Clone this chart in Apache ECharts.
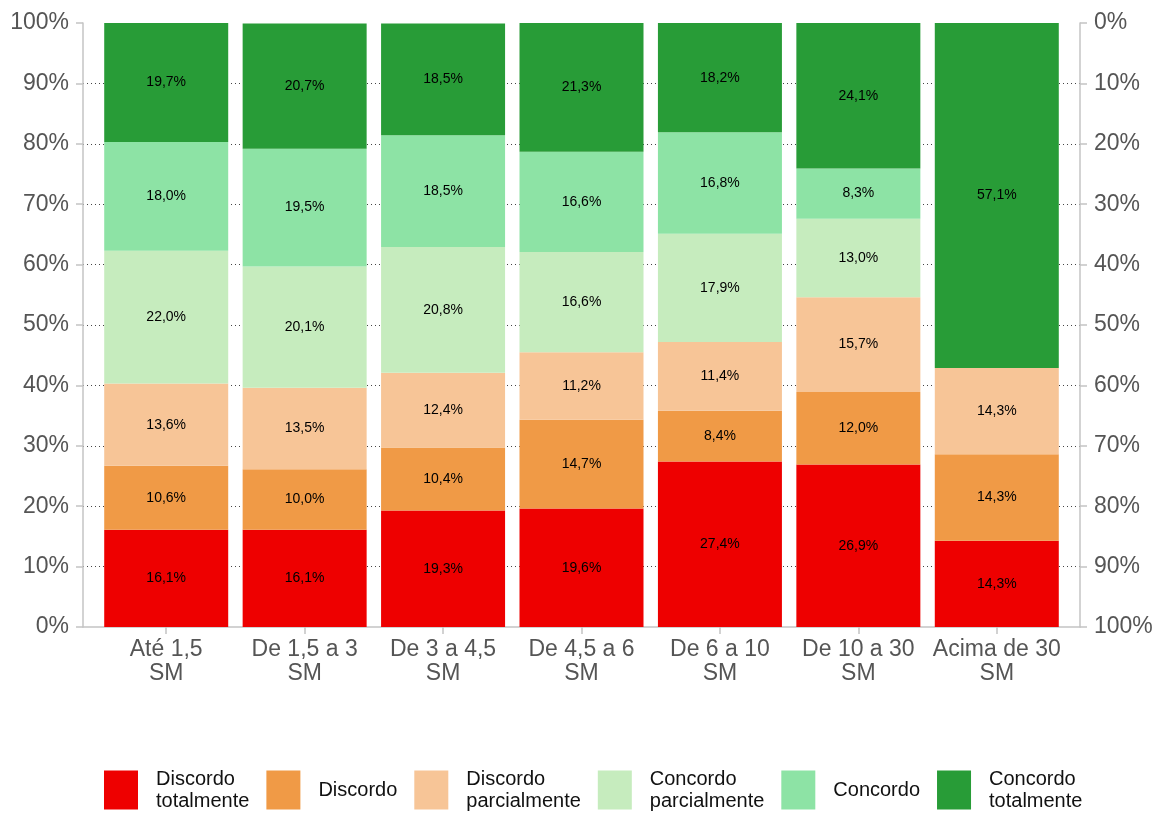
<!DOCTYPE html>
<html>
<head>
<meta charset="utf-8">
<script src="https://cdn.jsdelivr.net/npm/echarts@6/dist/echarts.min.js"></script>
<style>
  html, body { margin: 0; padding: 0; background: #fff; }
  #chart { width: 1157px; height: 813px; }
</style>
</head>
<body>
<div id="chart"></div>
<script>
// Income brackets (in minimum wages) and the share of each answer, in percent
const categories = ['Até 1,5\nSM', 'De 1,5 a 3\nSM', 'De 3 a 4,5\nSM', 'De 4,5 a 6\nSM', 'De 6 a 10\nSM', 'De 10 a 30\nSM', 'Acima de 30\nSM'];
const answerNames = ['Discordo\ntotalmente', 'Discordo', 'Discordo\nparcialmente', 'Concordo\nparcialmente', 'Concordo', 'Concordo\ntotalmente'];
const discordoTotalmente   = [16.1, 16.1, 19.3, 19.6, 27.4, 26.9, 14.3];
const discordo             = [10.6, 10.0, 10.4, 14.7, 8.4, 12.0, 14.3];
const discordoParcialmente = [13.6, 13.5, 12.4, 11.2, 11.4, 15.7, 14.3];
const concordoParcialmente = [22.0, 20.1, 20.8, 16.6, 17.9, 13.0, 0];
const concordo             = [18.0, 19.5, 18.5, 16.6, 16.8, 8.3, 0];
const concordoTotalmente   = [19.7, 20.7, 18.5, 21.3, 18.2, 24.1, 57.1];

const seriesValues = [discordoTotalmente, discordo, discordoParcialmente, concordoParcialmente, concordo, concordoTotalmente];
const colors = ['#EE0000', '#F09A46', '#F7C597', '#C6ECBE', '#8DE3A5', '#289C37'];

const FONT = "'Liberation Sans', Arial, sans-serif";
const AXIS_GRAY = '#C4C4C4';
const LABEL_GRAY = '#555555';

const chart = echarts.init(document.getElementById('chart'), null, { renderer: 'canvas' });

const fmtPct = v => v.toFixed(1).replace('.', ',') + '%';

const option = {
  animation: false,
  backgroundColor: '#ffffff',
  textStyle: { fontFamily: FONT },
  color: colors,
  grid: [
    // outer panel: axes frame and dotted guides
    { left: 83, right: 77, top: 23, bottom: 186 },
    // bar area, inset by a tenth of a category on each side
    { left: 97, right: 91, top: 23, bottom: 186 }
  ],
  legend: {
    data: answerNames,
    left: 104,
    top: 768,
    padding: 0,
    orient: 'horizontal',
    itemWidth: 34,
    itemHeight: 39,
    itemGap: 17,
    selectedMode: false,
    icon: 'rect',
    textStyle: { fontFamily: FONT, fontSize: 20, lineHeight: 22, color: '#111', padding: [0, 0, 0, 13] }
  },
  xAxis: [
    {
      type: 'value', gridIndex: 0, min: 0, max: 1,
      axisLine: { show: true, lineStyle: { color: AXIS_GRAY, width: 1.5 } },
      axisTick: { show: false }, axisLabel: { show: false }, splitLine: { show: false }
    },
    {
      type: 'category', gridIndex: 1, data: categories,
      axisLine: { show: false },
      axisTick: { show: true, alignWithLabel: true, length: 7, lineStyle: { color: AXIS_GRAY, width: 1.5 } },
      axisLabel: { fontFamily: FONT, fontSize: 23, lineHeight: 24, color: LABEL_GRAY, margin: 11, interval: 0 },
      splitLine: { show: false }
    }
  ],
  yAxis: [
    {
      type: 'value', gridIndex: 0, position: 'left', min: 0, max: 100, interval: 10,
      axisLine: { show: true, lineStyle: { color: AXIS_GRAY, width: 1.5 } },
      axisTick: { show: true, length: 7, lineStyle: { color: AXIS_GRAY, width: 1.5 } },
      axisLabel: { fontFamily: FONT, fontSize: 23, color: LABEL_GRAY, margin: 14, formatter: '{value}%' },
      splitLine: { show: true, showMinLine: false, showMaxLine: false, lineStyle: { color: '#444', width: 1, type: [1, 3] } }
    },
    {
      type: 'value', gridIndex: 0, position: 'right', min: 0, max: 100, interval: 10, inverse: true,
      axisLine: { show: true, lineStyle: { color: AXIS_GRAY, width: 1.5 } },
      axisTick: { show: true, length: 7, lineStyle: { color: AXIS_GRAY, width: 1.5 } },
      axisLabel: { fontFamily: FONT, fontSize: 23, color: LABEL_GRAY, margin: 14, formatter: '{value}%' },
      splitLine: { show: false }
    },
    {
      type: 'value', gridIndex: 1, min: 0, max: 100, show: false,
      splitLine: { show: false }
    }
  ],
  series: answerNames.map((name, i) => ({
    name: name,
    type: 'bar',
    stack: 'total',
    xAxisIndex: 1,
    yAxisIndex: 2,
    barWidth: 124,
    data: seriesValues[i],
    itemStyle: { color: colors[i] },
    label: {
      show: true,
      position: 'inside',
      color: '#000',
      fontFamily: FONT,
      fontSize: 14,
      formatter: p => (p.value > 0 ? fmtPct(p.value) : '')
    }
  }))
};

chart.setOption(option);
</script>
</body>
</html>
